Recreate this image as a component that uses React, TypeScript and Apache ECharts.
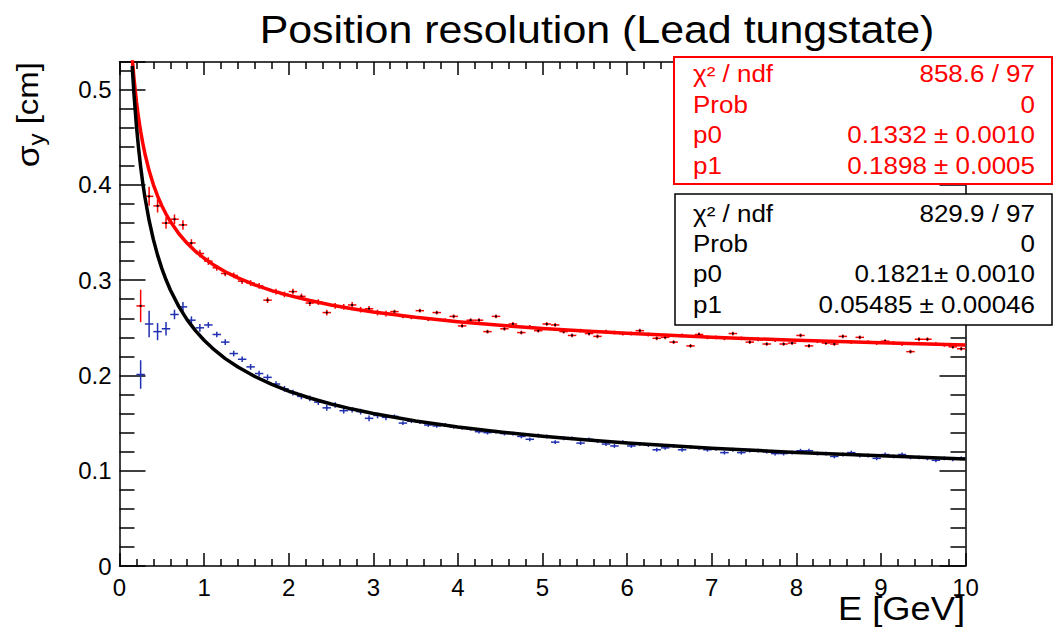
import React, { useEffect, useRef } from "react";
import * as echarts from "echarts";

// Bin centres (GeV)
const energies = [
  0.25, 0.35, 0.45, 0.55, 0.65, 0.75, 0.85, 0.95, 1.05, 1.15,
  1.25, 1.35, 1.45, 1.55, 1.65, 1.75, 1.85, 1.95, 2.05, 2.15,
  2.25, 2.35, 2.45, 2.55, 2.65, 2.75, 2.85, 2.95, 3.05, 3.15,
  3.25, 3.35, 3.45, 3.55, 3.65, 3.75, 3.85, 3.95, 4.05, 4.15,
  4.25, 4.35, 4.45, 4.55, 4.65, 4.75, 4.85, 4.95, 5.05, 5.15,
  5.25, 5.35, 5.45, 5.55, 5.65, 5.75, 5.85, 5.95, 6.05, 6.15,
  6.25, 6.35, 6.45, 6.55, 6.65, 6.75, 6.85, 6.95, 7.05, 7.15,
  7.25, 7.35, 7.45, 7.55, 7.65, 7.75, 7.85, 7.95, 8.05, 8.15,
  8.25, 8.35, 8.45, 8.55, 8.65, 8.75, 8.85, 8.95, 9.05, 9.15,
  9.25, 9.35, 9.45, 9.55, 9.65, 9.75, 9.85, 9.95,
];
const binHalfWidth = 0.05;

// Red data (sigma_y, cm)
const redSigma = [
  0.273, 0.388, 0.378, 0.360, 0.364, 0.358, 0.339, 0.328, 0.320, 0.313,
  0.307, 0.305, 0.299, 0.297, 0.294, 0.279, 0.288, 0.285, 0.288, 0.283,
  0.276, 0.277, 0.266, 0.273, 0.272, 0.274, 0.269, 0.270, 0.266, 0.265,
  0.267, 0.262, 0.261, 0.268, 0.259, 0.266, 0.258, 0.262, 0.252, 0.258,
  0.258, 0.246, 0.262, 0.249, 0.254, 0.245, 0.251, 0.247, 0.254, 0.253,
  0.246, 0.242, 0.247, 0.244, 0.241, 0.246, 0.245, 0.244, 0.244, 0.247,
  0.243, 0.239, 0.240, 0.235, 0.242, 0.231, 0.243, 0.240, 0.240, 0.239,
  0.244, 0.239, 0.235, 0.238, 0.233, 0.237, 0.233, 0.234, 0.242, 0.231,
  0.236, 0.234, 0.233, 0.241, 0.235, 0.240, 0.235, 0.234, 0.236, 0.234,
  0.233, 0.225, 0.238, 0.238, 0.233, 0.232, 0.230, 0.228,
];
const redErr = [
  0.017, 0.010, 0.007, 0.006, 0.005, 0.005, 0.004, 0.004, 0.004, 0.003,
  0.003, 0.003, 0.003, 0.003, 0.003, 0.003, 0.003, 0.003, 0.003, 0.003,
  0.003, 0.003, 0.003, 0.003, 0.003, 0.003, 0.003, 0.003, 0.003, 0.003,
  0.002, 0.002, 0.002, 0.002, 0.002, 0.002, 0.002, 0.002, 0.002, 0.002,
  0.002, 0.002, 0.002, 0.002, 0.002, 0.002, 0.002, 0.002, 0.002, 0.002,
  0.002, 0.002, 0.002, 0.002, 0.002, 0.002, 0.002, 0.002, 0.002, 0.002,
  0.002, 0.002, 0.002, 0.002, 0.002, 0.002, 0.002, 0.002, 0.002, 0.002,
  0.002, 0.002, 0.002, 0.002, 0.002, 0.002, 0.002, 0.002, 0.002, 0.002,
  0.002, 0.002, 0.002, 0.002, 0.002, 0.002, 0.002, 0.002, 0.002, 0.002,
  0.002, 0.002, 0.002, 0.002, 0.002, 0.002, 0.002, 0.002,
];

// Blue data (sigma_y, cm)
const blueSigma = [
  0.201, 0.254, 0.246, 0.249, 0.264, 0.272, 0.258, 0.250, 0.253, 0.243,
  0.235, 0.223, 0.217, 0.209, 0.202, 0.198, 0.191, 0.186, 0.182, 0.178,
  0.176, 0.172, 0.166, 0.169, 0.163, 0.164, 0.162, 0.155, 0.158, 0.156,
  0.157, 0.150, 0.152, 0.151, 0.148, 0.147, 0.148, 0.146, 0.145, 0.144,
  0.141, 0.140, 0.141, 0.139, 0.139, 0.136, 0.133, 0.137, 0.136, 0.130,
  0.134, 0.134, 0.129, 0.133, 0.131, 0.128, 0.126, 0.130, 0.126, 0.128,
  0.127, 0.122, 0.124, 0.126, 0.122, 0.125, 0.124, 0.122, 0.123, 0.119,
  0.122, 0.119, 0.121, 0.121, 0.120, 0.118, 0.118, 0.119, 0.121, 0.121,
  0.118, 0.118, 0.115, 0.117, 0.119, 0.116, 0.116, 0.113, 0.117, 0.115,
  0.117, 0.114, 0.114, 0.113, 0.111, 0.113, 0.112, 0.113,
];
const blueErr = [
  0.015, 0.014, 0.009, 0.007, 0.005, 0.005, 0.004, 0.004, 0.003, 0.003,
  0.003, 0.003, 0.003, 0.003, 0.003, 0.003, 0.003, 0.003, 0.003, 0.003,
  0.003, 0.003, 0.003, 0.003, 0.003, 0.003, 0.003, 0.003, 0.003, 0.003,
  0.002, 0.002, 0.002, 0.002, 0.002, 0.002, 0.002, 0.002, 0.002, 0.002,
  0.002, 0.002, 0.002, 0.002, 0.002, 0.002, 0.002, 0.002, 0.002, 0.002,
  0.002, 0.002, 0.002, 0.002, 0.002, 0.002, 0.002, 0.002, 0.002, 0.002,
  0.002, 0.002, 0.002, 0.002, 0.002, 0.002, 0.002, 0.002, 0.002, 0.002,
  0.002, 0.002, 0.002, 0.002, 0.002, 0.002, 0.002, 0.002, 0.002, 0.002,
  0.002, 0.002, 0.002, 0.002, 0.002, 0.002, 0.002, 0.002, 0.002, 0.002,
  0.002, 0.002, 0.002, 0.002, 0.002, 0.002, 0.002, 0.002,
];

// Fit curves, sampled along the drawn curve
const fitEnergies = [
  0.15, 0.17, 0.2, 0.225, 0.25, 0.275, 0.3, 0.35, 0.4, 0.45, 0.5, 0.55, 0.6, 0.7, 0.8, 0.9,
  1, 1.1, 1.25, 1.4, 1.6, 1.8, 2, 2.25, 2.5, 2.75, 3, 3.5, 4, 4.5, 5, 5.5, 6, 7, 8, 9, 10,
];
const redFit = [
  0.5337, 0.5129, 0.4876, 0.4706, 0.4562, 0.4438, 0.433, 0.415, 0.4004, 0.3884, 0.3782, 0.3694, 0.3618, 0.349, 0.3387, 0.3302,
  0.323, 0.3168, 0.3089, 0.3024, 0.2951, 0.2891, 0.284, 0.2786, 0.274, 0.2701, 0.2667, 0.261, 0.2564, 0.2526, 0.2494, 0.2466, 0.2442, 0.2401, 0.2369, 0.2342, 0.2319,
];
const blackFit = [
  0.525, 0.4966, 0.462, 0.4388, 0.4191, 0.4021, 0.3873, 0.3627, 0.3428, 0.3263, 0.3124, 0.3004, 0.2899, 0.2725, 0.2584, 0.2468,
  0.237, 0.2285, 0.2177, 0.2088, 0.1989, 0.1906, 0.1836, 0.1763, 0.17, 0.1647, 0.16, 0.1522, 0.1459, 0.1407, 0.1363, 0.1325, 0.1292, 0.1237, 0.1192, 0.1156, 0.1124,
];

const redStats = [
  ["χ² / ndf", "858.6 / 97"],
  ["Prob", "0"],
  ["p0", "0.1332 ± 0.0010"],
  ["p1", "0.1898 ± 0.0005"],
];
const blackStats = [
  ["χ² / ndf", "829.9 / 97"],
  ["Prob", "0"],
  ["p0", "0.1821± 0.0010"],
  ["p1", "0.05485 ± 0.00046"],
];

const titleText = "Position resolution (Lead tungstate)";
const FONT = '"Liberation Sans", Arial, Helvetica, sans-serif';
const RED = "#ff0000";
const BLUE = "#2030b0";

function crossSeries(name: string, sigma: number[], err: number[], color: string, dot: string | null) {
  const data = energies.map((e, i) => [e, sigma[i], err[i]]);
  return {
    type: "custom",
    name,
    data,
    z: 3,
    encode: { x: 0, y: 1 },
    renderItem: (params: any, api: any) => {
      const x = api.value(0);
      const y = api.value(1);
      const er = api.value(2);
      const l = api.coord([x - binHalfWidth, y]);
      const r = api.coord([x + binHalfWidth, y]);
      const t = api.coord([x, y + er]);
      const b = api.coord([x, y - er]);
      const c = api.coord([x, y]);
      const children: any[] = [
        { type: "line", shape: { x1: l[0], y1: l[1], x2: r[0], y2: r[1] }, style: { stroke: color, lineWidth: 1.5 } },
        { type: "line", shape: { x1: t[0], y1: t[1], x2: b[0], y2: b[1] }, style: { stroke: color, lineWidth: 1.5 } },
      ];
      if (dot) {
        children.push({ type: "rect", shape: { x: c[0] - 1, y: c[1] - 1, width: 2, height: 2 }, style: { fill: dot } });
      }
      return { type: "group", children };
    },
  };
}

function statBox(rows: string[][], color: string, box: number[], mids: number[], lw: number) {
  const els: any[] = [
    {
      type: "rect",
      z: 100,
      shape: { x: box[0], y: box[1], width: box[2], height: box[3] },
      style: { fill: "#fff", stroke: color, lineWidth: lw },
    },
  ];
  rows.forEach((r, i) => {
    els.push({
      type: "text",
      z: 101,
      x: 693,
      y: mids[i],
      scaleX: 1.13,
      style: { text: r[0], fill: color, font: `23px ${FONT}`, align: "left", verticalAlign: "middle", textAlign: "left", textVerticalAlign: "middle" },
    });
    els.push({
      type: "text",
      z: 101,
      x: 1035,
      y: mids[i],
      scaleX: 1.13,
      style: { text: r[1], fill: color, font: `23px ${FONT}`, align: "right", verticalAlign: "middle", textAlign: "right", textVerticalAlign: "middle" },
    });
  });
  return els;
}

export default function App() {
  const ref = useRef<HTMLDivElement>(null);
  useEffect(() => {
    if (!ref.current) return;
    const chart = echarts.init(ref.current, null, { renderer: "svg" });
    const axisLineStyle = { color: "#000", width: 1.5 };
    const xCommon = {
      type: "value",
      min: 0,
      max: 10,
      interval: 1,
      splitLine: { show: false },
      axisLine: { show: true, onZero: false, lineStyle: axisLineStyle },
      axisTick: { show: true, inside: true, length: 13, lineStyle: axisLineStyle },
      minorTick: { show: true, splitNumber: 5, length: 7, lineStyle: axisLineStyle },
    };
    const yCommon = {
      type: "value",
      min: 0,
      max: 0.529,
      interval: 0.1,
      splitLine: { show: false },
      axisLine: { show: true, onZero: false, lineStyle: axisLineStyle },
      axisTick: { show: true, inside: true, length: 26, lineStyle: axisLineStyle },
      minorTick: { show: true, splitNumber: 5, length: 15, lineStyle: axisLineStyle },
    };
    const option: any = {
      animation: false,
      backgroundColor: "#fff",
      grid: { left: 119.5, top: 62, width: 846, height: 504, containLabel: false },
      xAxis: [
        {
          ...xCommon,
          position: "bottom",
          axisLabel: { show: true, fontSize: 24, color: "#000", fontFamily: FONT, margin: 9 },
        },
        { ...xCommon, position: "top", axisLabel: { show: false } },
      ],
      yAxis: [
        {
          ...yCommon,
          position: "left",
          axisLabel: {
            show: true,
            fontSize: 24,
            color: "#000",
            fontFamily: FONT,
            margin: 8,
            showMaxLabel: false,
            formatter: (v: number) => (v === 0 ? "0" : v.toFixed(1)),
          },
        },
        { ...yCommon, position: "right", axisLabel: { show: false } },
      ],
      series: [
        crossSeries("red data", redSigma, redErr, RED, "#000"),
        crossSeries("blue data", blueSigma, blueErr, BLUE, null),
        {
          type: "line",
          name: "red fit",
          data: fitEnergies.map((e, i) => [e, redFit[i]]),
          showSymbol: false,
          smooth: false,
          clip: true,
          z: 4,
          lineStyle: { color: RED, width: 3.5, join: "round" },
        },
        {
          type: "line",
          name: "black fit",
          data: fitEnergies.map((e, i) => [e, blackFit[i]]),
          showSymbol: false,
          smooth: false,
          clip: true,
          z: 4,
          lineStyle: { color: "#000", width: 3.5, join: "round" },
        },
      ],
      graphic: [
        {
          type: "text",
          z: 100,
          x: 597,
          y: 29.5,
          scaleX: 1.1,
          style: { text: titleText, fill: "#000", font: `39px ${FONT}`, align: "center", verticalAlign: "middle", textAlign: "center", textVerticalAlign: "middle" },
        },
        {
          type: "text",
          z: 100,
          x: 965,
          y: 609,
          scaleX: 1.1,
          style: { text: "E [GeV]", fill: "#000", font: `33px ${FONT}`, align: "right", verticalAlign: "middle", textAlign: "right", textVerticalAlign: "middle" },
        },
        {
          type: "text",
          z: 100,
          x: 28,
          y: 62,
          rotation: Math.PI / 2,
          scaleX: 1.1,
          style: {
            text: "{s|σ}{sub|y}{n| [cm]}",
            fill: "#000",
            align: "right",
            verticalAlign: "middle",
            textAlign: "right",
            textVerticalAlign: "middle",
            rich: {
              s: { fontSize: 32, fontFamily: FONT, lineHeight: 38, fill: "#000" },
              sub: { fontSize: 22, fontFamily: FONT, lineHeight: 24, verticalAlign: "bottom", fill: "#000" },
              n: { fontSize: 30, fontFamily: FONT, lineHeight: 38, fill: "#000" },
            },
          },
        },
        ...statBox(redStats, RED, [674, 57, 378, 127], [73.7, 105.3, 135.4, 166], 2),
        ...statBox(blackStats, "#000", [675, 194, 377, 131], [213.7, 243.7, 274, 305], 1.5),
      ],
    };
    chart.setOption(option);
    return () => chart.dispose();
  }, []);
  return (
    <div
      ref={ref}
      style={{ position: "fixed", left: 0, top: 0, width: 1053, height: 629, background: "#fff" }}
    />
  );
}
